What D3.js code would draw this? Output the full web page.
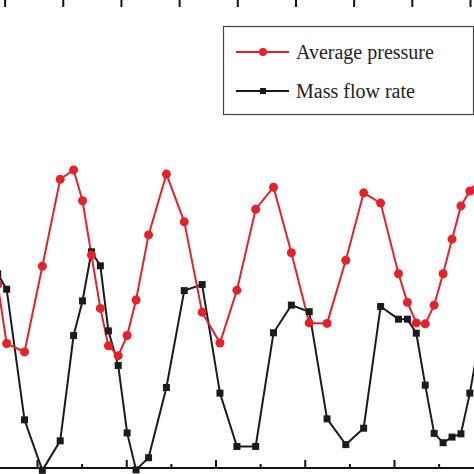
<!DOCTYPE html>
<html><head><meta charset="utf-8">
<script src="https://cdn.jsdelivr.net/npm/d3@7"></script>
<style>html,body{margin:0;padding:0;background:#fff;}svg{display:block;}</style>
</head><body>
<svg id="chart" width="474" height="474"></svg>
<script>
// Time steps (arbitrary units, bottom axis majors every 10)
const timeSteps = [5.6, 6.6, 8.6, 10.6, 12.6, 14.1, 15.1, 16.1, 17.1, 18.0, 19.1, 20.1, 21.1, 22.5, 24.5, 26.5, 28.5, 30.5, 32.4, 34.5, 36.5, 38.5, 40.5, 42.5, 44.6, 46.6, 48.5, 50.5, 51.5, 52.5, 53.5, 54.5, 55.5, 56.5, 57.5, 58.5, 59.5];
const averagePressure = [39.2, 26.6, 24.8, 43.1, 61.7, 63.7, 57.1, 45.5, 34.1, 26.1, 24.0, 28.3, 35.9, 49.8, 62.8, 52.6, 33.3, 26.7, 38.0, 55.3, 60.0, 46.0, 31.0, 30.9, 44.4, 58.8, 56.6, 41.5, 35.4, 31.0, 30.8, 34.8, 41.5, 48.9, 56.0, 59.2, 61.5];
const massFlowRate = [41.5, 38.2, 10.3, -0.5, 5.8, 28.3, 35.7, 46.2, 43.2, 29.3, 21.9, 7.5, -0.4, 2.2, 17.2, 37.9, 39.2, 16.0, 4.6, 4.6, 28.9, 34.8, 33.4, 10.5, 5.0, 8.5, 34.5, 31.8, 31.8, 28.8, 17.7, 7.4, 5.4, 6.6, 7.3, 16.0, 26.7];
const bottomMajorTicks = [10, 20, 30, 40, 50];
const bottomMinorTicks = [15, 25, 35, 45, 55];
const topTicks = [0, 1, 2, 3, 4, 5, 6, 7, 8];
const seriesNames = ["Average pressure", "Mass flow rate"];

const W = 474, H = 474, axisY = 468;
const svg = d3.select("#chart");
const x = d3.scaleLinear().domain([10, 50]).range([37, 394]);
const y = d3.scaleLinear().domain([0, 100]).range([axisY, 0]);
const xTop = d3.scaleLinear().domain([0, 8]).range([4.6, 470]);

const red = "#e3222b", black = "#1b1b1b";

// top ticks
const topG = svg.append("g").attr("transform", "translate(0,0)")
  .call(d3.axisTop(xTop).tickValues(topTicks).tickSize(-7).tickFormat(""));
topG.select(".domain").remove();
topG.selectAll("line").attr("stroke", "#111").attr("stroke-width", 2);

// bottom axis
svg.append("line").attr("x1", 0).attr("x2", W).attr("y1", axisY).attr("y2", axisY)
  .attr("stroke", "#111").attr("stroke-width", 2);
const bMaj = svg.append("g").attr("transform", `translate(0,${axisY})`)
  .call(d3.axisBottom(x).tickValues(bottomMajorTicks).tickSize(-8).tickFormat(""));
bMaj.select(".domain").remove();
bMaj.selectAll("line").attr("stroke", "#111").attr("stroke-width", 2);
const bMin = svg.append("g").attr("transform", `translate(0,${axisY})`)
  .call(d3.axisBottom(x).tickValues(bottomMinorTicks).tickSize(-4).tickFormat(""));
bMin.select(".domain").remove();
bMin.selectAll("line").attr("stroke", "#111").attr("stroke-width", 2);

const pData = timeSteps.map((t, i) => ({t, v: averagePressure[i]}));
const mData = timeSteps.map((t, i) => ({t, v: massFlowRate[i]}));
const line = d3.line().x(d => x(d.t)).y(d => y(d.v));

svg.append("path").datum(mData).attr("d", line).attr("fill", "none")
  .attr("stroke", black).attr("stroke-width", 2);
svg.append("path").datum(pData).attr("d", line).attr("fill", "none")
  .attr("stroke", red).attr("stroke-width", 2);

svg.append("g").selectAll("rect").data(mData).join("rect")
  .attr("x", d => x(d.t) - 3.5).attr("y", d => y(d.v) - 3.5)
  .attr("width", 7).attr("height", 7).attr("fill", black);
svg.append("g").selectAll("circle").data(pData).join("circle")
  .attr("cx", d => x(d.t)).attr("cy", d => y(d.v)).attr("r", 4.5).attr("fill", red);

// legend
const lg = svg.append("g");
lg.append("rect").attr("x", 223.5).attr("y", 26.5).attr("width", 250).attr("height", 88)
  .attr("fill", "#fff").attr("stroke", "#444").attr("stroke-width", 1.2);
const entries = [
  {name: seriesNames[0], color: red, y: 52, ty: 59, shape: "circle"},
  {name: seriesNames[1], color: black, y: 91, ty: 98, shape: "square"}
];
entries.forEach(e => {
  lg.append("line").attr("x1", 236).attr("x2", 289).attr("y1", e.y).attr("y2", e.y)
    .attr("stroke", e.color).attr("stroke-width", 2);
  if (e.shape === "circle") {
    lg.append("circle").attr("cx", 263).attr("cy", e.y).attr("r", 4).attr("fill", e.color);
  } else {
    lg.append("rect").attr("x", 260).attr("y", e.y - 3).attr("width", 6).attr("height", 6).attr("fill", e.color);
  }
  lg.append("text").attr("x", 296).attr("y", e.ty)
    .attr("font-family", "'Liberation Serif', 'Times New Roman', serif")
    .attr("font-size", 20).attr("fill", "#222").text(e.name);
});
</script>
</body></html>
